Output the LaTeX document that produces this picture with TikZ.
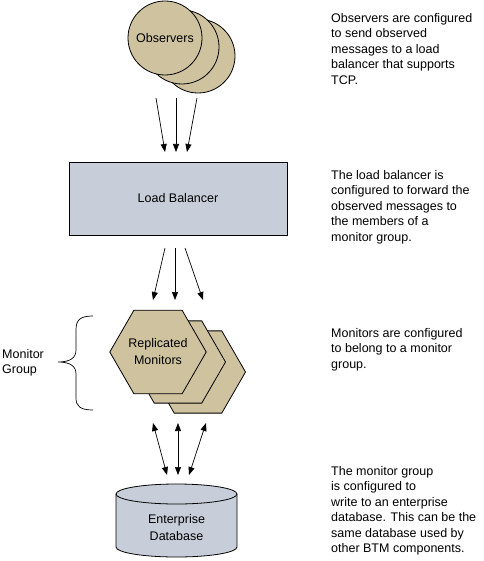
\documentclass[tikz,border=0pt]{standalone}
\usepackage{fontspec}
\setmainfont{Liberation Sans}
\usetikzlibrary{
  positioning, arrows.meta, shapes.geometric
}
\definecolor{tanfill}{RGB}{207,194,159}
\definecolor{boxfill}{RGB}{200,206,217}

\begin{document}
\begin{tikzpicture}[x=1pt, y=-1pt,
    tan/.style={draw=black, fill=tanfill, line width=0.8pt, inner sep=0pt},
    box/.style={draw=black, fill=boxfill, line width=0.8pt},
    flow/.style={-{Triangle[length=8pt,width=6pt]}, line width=0.7pt},
    both/.style={{Triangle[length=8pt,width=6pt]}-{Triangle[length=8pt,width=6pt]}, line width=0.7pt},
    note/.style={align=left, anchor=north west, inner sep=0pt, font=\fontsize{12.5}{15.5}\selectfont},
    lbl/.style={align=center, font=\fontsize{12.5}{17}\selectfont}]
      \useasboundingbox (0,0) rectangle (483,561);
      % observers
      \node[tan, circle, minimum size=74pt] (obs3) at (198,56) {};
      \node[tan, circle, minimum size=74pt] (obs2) at (182,47) {};
      \node[tan, circle, minimum size=74pt, lbl] (obs1) at (165,38) {Observers};
      % load balancer
      \node[box, minimum width=218pt, minimum height=73pt, lbl] (lb) at (178,198.5) {Load Balancer};
      % monitors
      \node[tan, regular polygon, regular polygon sides=6, minimum size=95pt] (mon3) at (198,372) {};
      \node[tan, regular polygon, regular polygon sides=6, minimum size=95pt] (mon2) at (178,362) {};
      \node[tan, regular polygon, regular polygon sides=6, minimum size=95pt, lbl] (mon1) at (158,352) {Replicated\\Monitors};
      % database
      \draw[box] (116,494) -- (116,547) arc[start angle=180, end angle=0, x radius=60.5, y radius=10] -- (237,494);
      \draw[box] (176.5,494) ellipse [x radius=60.5, y radius=10];
      \node[lbl] (db) at (176.5,528) {Enterprise\\Database};
      % arrows
      \foreach \i/\sx/\ex in {1/156/165, 2/176/176, 3/197/187} {
        \coordinate (os\i) at (\sx,98); \coordinate (oe\i) at (\ex,152);
        \draw[flow] (os\i) -- (oe\i);
      }
      \foreach \i/\sx/\ex in {1/165/153, 2/175/175, 3/185/203} {
        \coordinate (ls\i) at (\sx,248); \coordinate (le\i) at (\ex,300);
        \draw[flow] (ls\i) -- (le\i);
      }
      \foreach \i/\sx/\ex in {1/153/167, 2/178/178, 3/206/189} {
        \coordinate (ms\i) at (\sx,423); \coordinate (me\i) at (\ex,475);
        \draw[both] (ms\i) -- (me\i);
      }
      % monitor group brace
      \draw[line width=0.7pt] (93,316) .. controls (80,316) and (76,320) .. (76,330) -- (76,350)
        .. controls (76,358) and (70,362) .. (58,362) .. controls (70,362) and (76,366) .. (76,374)
        -- (76,398) .. controls (76,406) and (80,410) .. (93,410);
      \node[note] (grp) at (2,349) {Monitor\\Group};
      % notes
      \node[note] (txtobs) at (331,13) {Observers are configured\\to send observed\\messages to a load\\balancer that supports\\TCP.};
      \node[note] (txtlb) at (331,170) {The load balancer is\\configured to forward the\\observed messages to\\the members of a\\monitor group.};
      \node[note] (txtmon) at (331,328) {Monitors are configured\\to belong to a monitor\\group.};
      \node[note] (txtdb) at (331,466) {The monitor group\\is configured to\\write to an enterprise\\database. This can be the\\same database used by\\other BTM components.};
\end{tikzpicture}
\end{document}
